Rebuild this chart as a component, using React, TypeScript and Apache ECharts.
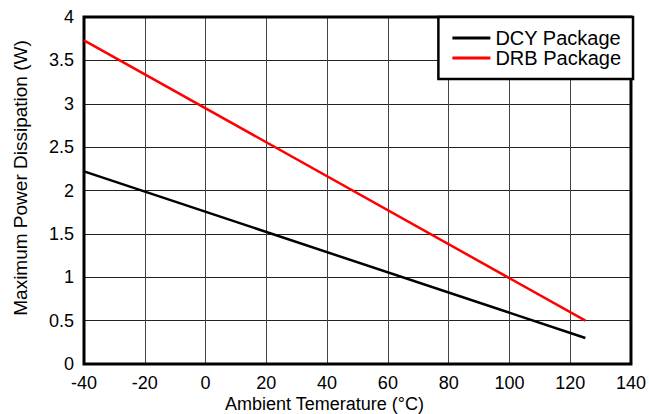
import React, { useEffect, useRef } from "react";
import * as echarts from "echarts";

const seriesNames = ["DCY Package", "DRB Package"];
const temps = [-40, 125];
const dcyPower = [2.22, 0.3];
const drbPower = [3.73, 0.5];
const xAxisTitle = "Ambient Temerature (°C)";
const yAxisTitle = "Maximum Power Dissipation (W)";

const FONT = "Liberation Sans, Arial, Helvetica, sans-serif";

export default function App() {
  const ref = useRef<HTMLDivElement>(null);
  useEffect(() => {
    if (!ref.current) return;
    const chart = echarts.init(ref.current, null, { renderer: "svg" });
    chart.setOption({
      animation: false,
      backgroundColor: "#fff",
      textStyle: { fontFamily: FONT },
      grid: {
        left: 84,
        right: 16,
        top: 17,
        bottom: 50,
        show: true,
        borderColor: "#000",
        borderWidth: 3,
        z: 3,
      },
      xAxis: {
        type: "value",
        min: -40,
        max: 140,
        interval: 20,
        axisLine: { show: false },
        axisTick: { show: false },
        axisLabel: { fontSize: 18, color: "#000", margin: 10, fontFamily: FONT },
        splitLine: { show: true, lineStyle: { color: "#444", width: 1 } },
      },
      yAxis: {
        type: "value",
        min: 0,
        max: 4,
        interval: 0.5,
        axisLine: { show: false },
        axisTick: { show: false },
        axisLabel: { fontSize: 18, color: "#000", margin: 10, fontFamily: FONT },
        splitLine: { show: true, lineStyle: { color: "#222", width: 1 } },
      },
      legend: {
        orient: "vertical",
        right: 16,
        top: 17,
        data: seriesNames,
        icon: "rect",
        itemWidth: 38,
        itemHeight: 3,
        itemGap: 0,
        padding: [11, 12, 11, 14],
        borderColor: "#000",
        borderWidth: 2.5,
        borderRadius: 0,
        backgroundColor: "#fff",
        textStyle: { fontSize: 20, color: "#000", fontFamily: FONT },
        z: 10,
      },
      graphic: [
        {
          type: "text",
          x: 324.5,
          y: 404,
          style: {
            text: xAxisTitle,
            fill: "#000",
            font: `18px ${FONT}`,
            textAlign: "center",
            textVerticalAlign: "middle",
          },
        },
        {
          type: "text",
          x: 20,
          y: 178,
          rotation: Math.PI / 2,
          style: {
            text: yAxisTitle,
            fill: "#000",
            font: `19px ${FONT}`,
            textAlign: "center",
            textVerticalAlign: "middle",
          },
        },
      ],
      series: [
        {
          name: seriesNames[0],
          type: "line",
          data: temps.map((t, i) => [t, dcyPower[i]]),
          showSymbol: false,
          lineStyle: { color: "#000", width: 2.5 },
          itemStyle: { color: "#000" },
          z: 4,
        },
        {
          name: seriesNames[1],
          type: "line",
          data: temps.map((t, i) => [t, drbPower[i]]),
          showSymbol: false,
          lineStyle: { color: "#ff0000", width: 2.5 },
          itemStyle: { color: "#ff0000" },
          z: 4,
        },
      ],
    });
    return () => chart.dispose();
  }, []);
  return (
    <div
      ref={ref}
      style={{ position: "absolute", left: 0, top: 0, width: 649, height: 414 }}
    />
  );
}
